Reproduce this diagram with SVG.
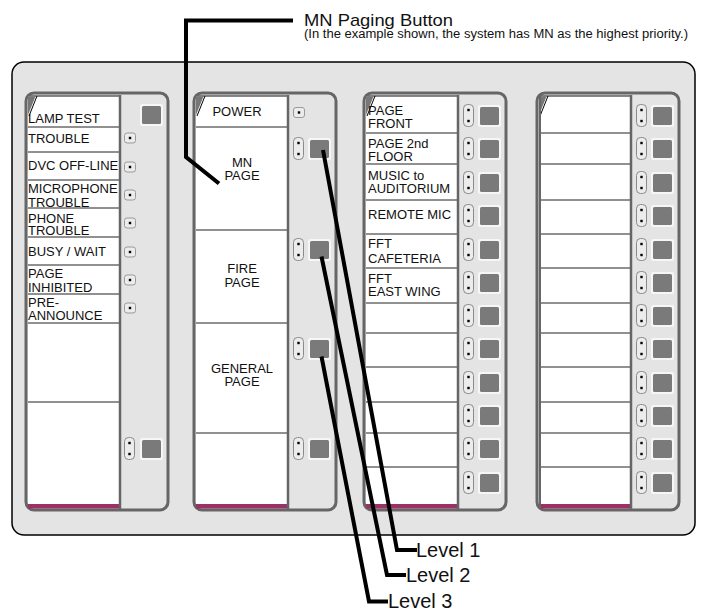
<svg xmlns="http://www.w3.org/2000/svg" width="704" height="610" viewBox="0 0 704 610">
<style>
.t{font-family:"Liberation Sans",Arial,Helvetica,sans-serif;font-size:13px;fill:#111}
.c{text-anchor:middle}
.panel{fill:#e4e4e4;stroke:#000;stroke-width:1.5}
.mod{fill:#e4e4e4;stroke:#666;stroke-width:3}
.strip{fill:#fff}
.top{stroke:#111;stroke-width:1}
.row{stroke:#222;stroke-width:1}
.sep{stroke:#666;stroke-width:2.5}
.bar{fill:#993366}
.lead{fill:none;stroke:#000;stroke-width:4;stroke-linejoin:miter}
</style>
<defs>
<g id="btn"><rect x="-2" y="-2" width="23" height="22" rx="2" fill="#f6f6f6"/><rect x="0" y="0" width="19" height="18" rx="1.5" fill="#7a7a7a"/></g>
<g id="led2"><rect x="0.5" y="0.5" width="10" height="22" rx="4" fill="#ececec" stroke="#8a8a8a" stroke-width="1"/><rect x="4.3" y="4.8" width="2.4" height="2.4" fill="#000"/><rect x="4.3" y="15.8" width="2.4" height="2.4" fill="#000"/></g>
<g id="led1"><rect x="0.5" y="0.5" width="11" height="10" rx="2.5" fill="#ececec" stroke="#999" stroke-width="1"/><rect x="4.8" y="4.3" width="2.4" height="2.4" fill="#000"/></g>
<g id="frame">
<rect class="mod" x="0" y="93" width="142" height="417" rx="8"/>
<rect class="strip" x="2" y="95.5" width="91" height="409"/>
<rect class="bar" x="2" y="504" width="92" height="4.5"/>
<line class="top" x1="2" y1="96" x2="93" y2="96"/>
<polygon points="2,96.5 9.5,96.5 2,115" fill="#777"/>
<line x1="3" y1="116" x2="11" y2="96" stroke="#000" stroke-width="1"/>
</g>
</defs>

<rect id="panel" class="panel" x="12" y="62" width="683" height="473" rx="12"/>

<g id="module1" transform="translate(26,0)">
<use href="#frame"/>
<g class="row">
<line x1="2" y1="127" x2="93" y2="127"/><line x1="2" y1="152" x2="93" y2="152"/><line x1="2" y1="180" x2="93" y2="180"/><line x1="2" y1="208" x2="93" y2="208"/><line x1="2" y1="237" x2="93" y2="237"/><line x1="2" y1="265" x2="93" y2="265"/><line x1="2" y1="294" x2="93" y2="294"/><line x1="2" y1="323" x2="93" y2="323"/><line x1="2" y1="402" x2="93" y2="402"/>
</g>
<text class="t" x="2" y="122.5">LAMP TEST</text>
<text class="t" x="2" y="142.5">TROUBLE</text>
<text class="t" x="2" y="170">DVC OFF-LINE</text>
<text class="t" x="2" y="193">MICROPHONE</text>
<text class="t" x="2" y="207">TROUBLE</text>
<text class="t" x="2" y="222.5">PHONE</text>
<text class="t" x="2" y="235">TROUBLE</text>
<text class="t" x="2" y="256">BUSY / WAIT</text>
<text class="t" x="2" y="278">PAGE</text>
<text class="t" x="2" y="291.5">INHIBITED</text>
<text class="t" x="2" y="306.5">PRE-</text>
<text class="t" x="2" y="320">ANNOUNCE</text>
<line class="sep" x1="94" y1="95" x2="94" y2="509"/>
<use href="#btn" x="116" y="106"/>
<use href="#led1" x="98" y="132.5"/><use href="#led1" x="98" y="161.5"/><use href="#led1" x="98" y="189.5"/><use href="#led1" x="98" y="217.5"/><use href="#led1" x="98" y="246.5"/><use href="#led1" x="98" y="274.5"/><use href="#led1" x="98" y="302.5"/>
<use href="#led2" x="98" y="437"/><use href="#btn" x="116" y="440"/>
</g>

<g id="module2" transform="translate(194,0)">
<use href="#frame"/>
<g class="row">
<line x1="2" y1="127" x2="93" y2="127"/><line x1="2" y1="230" x2="93" y2="230"/><line x1="2" y1="323" x2="93" y2="323"/><line x1="2" y1="433" x2="93" y2="433"/>
</g>
<text class="t c" x="43" y="116">POWER</text>
<text class="t c" x="48" y="167">MN</text>
<text class="t c" x="48" y="180">PAGE</text>
<text class="t c" x="48" y="273">FIRE</text>
<text class="t c" x="48" y="286.5">PAGE</text>
<text class="t c" x="48" y="373">GENERAL</text>
<text class="t c" x="48" y="385.5">PAGE</text>
<line class="sep" x1="94" y1="95" x2="94" y2="509"/>
<use href="#led1" x="99" y="107"/>
<use href="#led2" x="99" y="137"/><use href="#btn" x="116" y="140"/>
<use href="#led2" x="99" y="238"/><use href="#btn" x="116" y="241"/>
<use href="#led2" x="99" y="337"/><use href="#btn" x="116" y="340"/>
<use href="#led2" x="99" y="437"/><use href="#btn" x="116" y="440"/>
</g>

<g id="module3" transform="translate(364,0)">
<use href="#frame"/>
<g class="row">
<line x1="2" y1="133" x2="93" y2="133"/><line x1="2" y1="164" x2="93" y2="164"/><line x1="2" y1="200" x2="93" y2="200"/><line x1="2" y1="234" x2="93" y2="234"/><line x1="2" y1="268" x2="93" y2="268"/><line x1="2" y1="303" x2="93" y2="303"/><line x1="2" y1="333" x2="93" y2="333"/><line x1="2" y1="367" x2="93" y2="367"/><line x1="2" y1="402" x2="93" y2="402"/><line x1="2" y1="433" x2="93" y2="433"/><line x1="2" y1="467" x2="93" y2="467"/>
</g>
<text class="t" x="4" y="115">PAGE</text>
<text class="t" x="4" y="128">FRONT</text>
<text class="t" x="4" y="148">PAGE 2nd</text>
<text class="t" x="4" y="160.5">FLOOR</text>
<text class="t" x="4" y="180">MUSIC to</text>
<text class="t" x="4" y="192.5">AUDITORIUM</text>
<text class="t" x="4" y="219">REMOTE MIC</text>
<text class="t" x="4" y="248">FFT</text>
<text class="t" x="4" y="262.5">CAFETERIA</text>
<text class="t" x="4" y="283">FFT</text>
<text class="t" x="4" y="296">EAST WING</text>
<line class="sep" x1="94" y1="95" x2="94" y2="509"/>
<g id="m3buttons">
<use href="#led2" x="99" y="104"/><use href="#btn" x="116" y="107"/>
<use href="#led2" x="99" y="137"/><use href="#btn" x="116" y="140"/>
<use href="#led2" x="99" y="171"/><use href="#btn" x="116" y="174"/>
<use href="#led2" x="99" y="204"/><use href="#btn" x="116" y="207"/>
<use href="#led2" x="99" y="238"/><use href="#btn" x="116" y="241"/>
<use href="#led2" x="99" y="271"/><use href="#btn" x="116" y="274"/>
<use href="#led2" x="99" y="304"/><use href="#btn" x="116" y="307"/>
<use href="#led2" x="99" y="337"/><use href="#btn" x="116" y="340"/>
<use href="#led2" x="99" y="371"/><use href="#btn" x="116" y="374"/>
<use href="#led2" x="99" y="404"/><use href="#btn" x="116" y="407"/>
<use href="#led2" x="99" y="437"/><use href="#btn" x="116" y="440"/>
<use href="#led2" x="99" y="471"/><use href="#btn" x="116" y="474"/>
</g>
</g>

<g id="module4" transform="translate(537,0)">
<use href="#frame"/>
<g class="row">
<line x1="2" y1="133" x2="93" y2="133"/><line x1="2" y1="164" x2="93" y2="164"/><line x1="2" y1="200" x2="93" y2="200"/><line x1="2" y1="234" x2="93" y2="234"/><line x1="2" y1="268" x2="93" y2="268"/><line x1="2" y1="303" x2="93" y2="303"/><line x1="2" y1="333" x2="93" y2="333"/><line x1="2" y1="367" x2="93" y2="367"/><line x1="2" y1="402" x2="93" y2="402"/><line x1="2" y1="433" x2="93" y2="433"/><line x1="2" y1="467" x2="93" y2="467"/>
</g>
<line x1="3" y1="96" x2="3" y2="508" stroke="#666" stroke-width="2"/>
<line class="sep" x1="94" y1="95" x2="94" y2="509"/>
<use href="#m3buttons"/>
</g>

<g id="connectors">
<path class="lead" d="M293,20.5 H186 V157 L219,183.5"/>
<path class="lead" d="M323,150 L397,550 H417"/>
<path class="lead" d="M321.5,256.5 L387,575 H406"/>
<path class="lead" d="M321.5,356.5 L369,601.5 H388"/>
</g>

<g id="labels">
<text class="t" x="304" y="26" style="font-size:17px" textLength="149" lengthAdjust="spacingAndGlyphs">MN Paging Button</text>
<text class="t" x="304" y="37.5" style="font-size:12px" textLength="384" lengthAdjust="spacingAndGlyphs">(In the example shown, the system has MN as the highest priority.)</text>
<text class="t" x="416" y="556.5" style="font-size:20px">Level 1</text>
<text class="t" x="406" y="581.5" style="font-size:20px">Level 2</text>
<text class="t" x="388" y="607.5" style="font-size:20px">Level 3</text>
</g>
</svg>
